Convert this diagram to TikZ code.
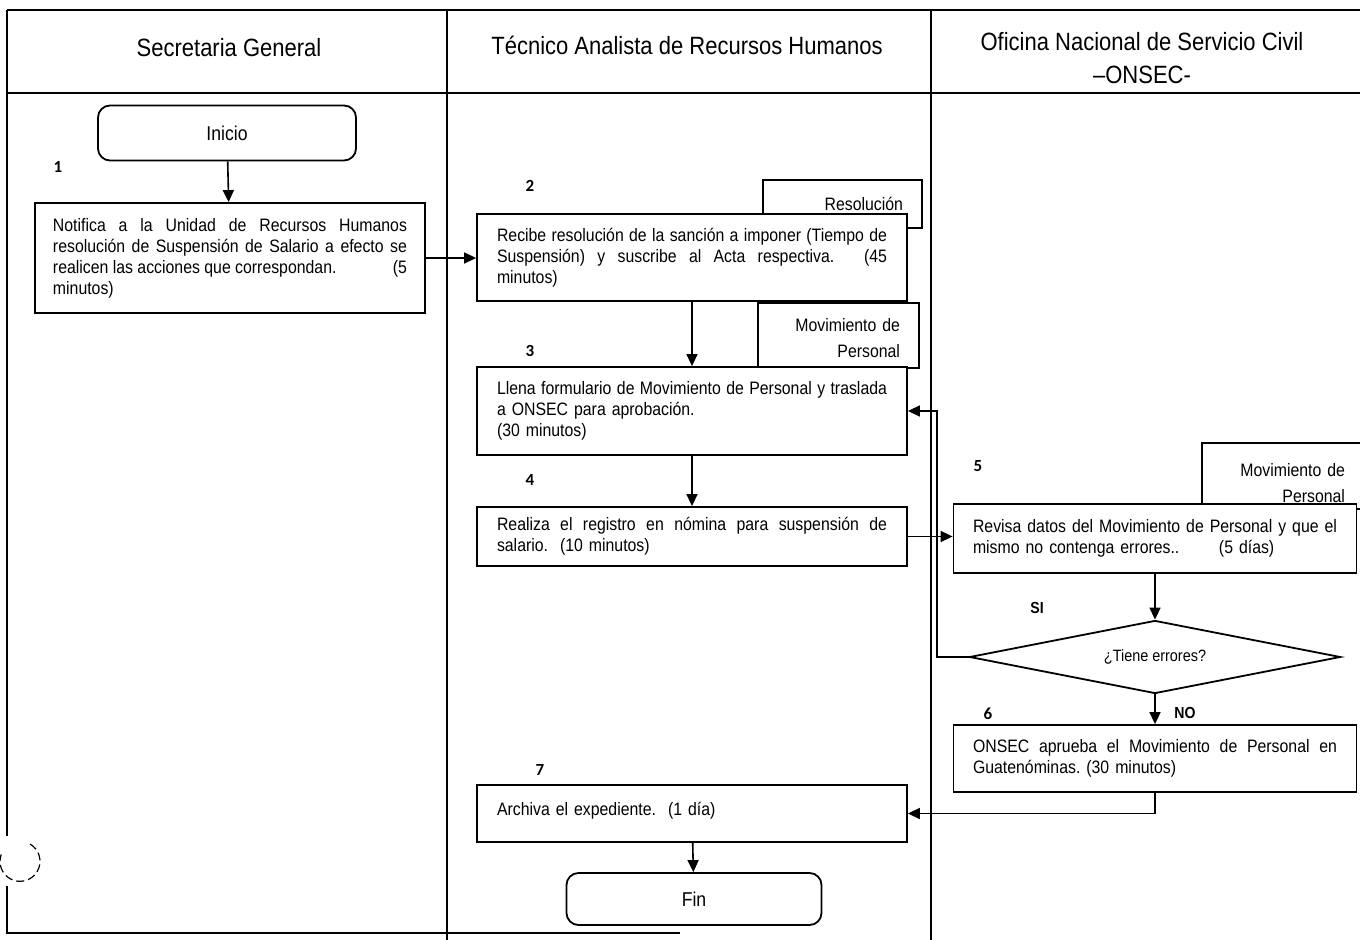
\documentclass[tikz,border=0pt]{standalone}
\usepackage{fontspec}
\setmainfont{Liberation Sans}[FakeStretch=0.88]
\newfontfamily\numfont{Carlito}
\usetikzlibrary{arrows.meta,shapes.geometric}
\newcommand\jl[1]{{\spaceskip=0pt\xspaceskip=0pt\makebox[\linewidth][s]{#1}}}
\begin{document}
\begin{tikzpicture}[x=0.5pt,y=-0.5pt,
 lane/.style={line width=0.9pt},
 box/.style={draw, line width=0.9pt, fill=white, rectangle, align=left, font=\fontsize{9}{10.5}\selectfont, inner ysep=2pt},
 rhbox/.style={box, minimum width=215pt, text width=195pt, inner xsep=10pt},
 onbox/.style={box, minimum width=201.5pt, text width=182pt, inner xsep=9.75pt},
 doc/.style={draw, line width=0.9pt, rectangle, align=right, font=\fontsize{9}{13}\selectfont},
 term/.style={draw, line width=0.9pt, rounded corners=6pt, fill=white, font=\fontsize{10}{12}\selectfont},
 num/.style={font=\numfont\bfseries\fontsize{8.5}{10}\selectfont},
 hdr/.style={font=\fontsize{12.5}{16.5}\selectfont, align=center},
 arr/.style={line width=0.8pt, -{Triangle[length=6pt,width=5.5pt]}},
 lbl/.style={font=\bfseries\fontsize{8}{10}\selectfont}
]
\useasboundingbox (0,0) rectangle (1360,940);
% lanes
\draw[lane] (7,10) -- (1360,10);
\draw[lane] (7,93) -- (1360,93);
\draw[lane] (447,10) -- (447,940);
\draw[lane] (931,10) -- (931,940);
\draw[lane] (7,10) -- (7,836);
\draw[lane] (7,886) -- (7,933) -- (680,933);
\draw[line width=0.6pt, dash pattern=on 4pt off 2pt] (30,844) arc[start angle=60, end angle=-200, radius=10pt];
% headers
\node[hdr] (h1) at (229,48) {Secretaria General};
\node[hdr] (h2) at (687,45) {Técnico Analista de Recursos Humanos};
\node[hdr] (h3) at (1142,58.5) {Oficina Nacional de Servicio Civil\\–ONSEC-};
% documents
\node[doc, minimum width=79.5pt, minimum height=24pt, text width=60.5pt, inner xsep=9.5pt] (res) at (842.5,204) {Resolución};
\node[doc, minimum width=80.5pt, minimum height=32.5pt, text width=61.5pt, inner xsep=9.5pt, text height=9pt] (mov1) at (838.5,335.5) {Movimiento de\\Personal};
\node[doc, minimum width=82pt, minimum height=29pt, text width=61pt, inner xsep=10.5pt, text height=13.5pt] (mov2) at (1284,476) {Movimiento de\\Personal};
% steps
\node[term, minimum width=129pt, minimum height=27.5pt] (inicio) at (227,133) {Inicio};
\node[box, minimum width=195pt, text width=177pt, inner xsep=9pt, minimum height=55pt] (n1) at (230,258) {%
\jl{Notifica a la Unidad de Recursos Humanos}\\
\jl{resolución de Suspensión de Salario a efecto se}\\
\jl{realicen las acciones que correspondan.\hfill(5}\\
minutos)};
\node[rhbox, minimum height=43.5pt] (n2) at (692,257.5) {%
\jl{Recibe resolución de la sanción a imponer (Tiempo de}\\
\jl{Suspensión) y suscribe al Acta respectiva. (45}\\
minutos)};
\node[rhbox, minimum height=44pt] (n3) at (692,411) {%
\jl{Llena formulario de Movimiento de Personal y traslada}\\
a ONSEC para aprobación.\\
(30 minutos)};
\node[rhbox, minimum height=29.5pt] (n4) at (692,536.5) {%
\jl{Realiza el registro en nómina para suspensión de}\\
salario.\ \ (10 minutos)};
\node[onbox, minimum height=34.5pt] (n5) at (1155,538.5) {%
\jl{Revisa datos del Movimiento de Personal y que el}\\
mismo no contenga errores..\hspace{2.2em}(5 días)};
\node[draw, line width=0.9pt, diamond, aspect=5.08, fill=white, inner sep=0pt, minimum width=185.5pt, minimum height=36.5pt, font=\fontsize{8.2}{10}\selectfont] (dia) at (1155,657) {¿Tiene errores?};
\node[onbox, minimum height=33.5pt] (n6) at (1155,758.5) {%
\jl{ONSEC aprueba el Movimiento de Personal en}\\
Guatenóminas.\ (30 minutos)};
\node[rhbox, minimum height=28.5pt, text depth=5pt] (n7) at (692,813.5) {Archiva el expediente.\ \ (1 día)};
\node[term, minimum width=127.5pt, minimum height=26pt] (fin) at (694,899) {Fin};
% numbers
\node[num] (l1) at (58,167) {1};
\node[num] (l2) at (530,186) {2};
\node[num] (l3) at (530,351) {3};
\node[num] (l4) at (530,480) {4};
\node[num] (l5) at (978,466) {5};
\node[num] (l6) at (988,714) {6};
\node[num] (l7) at (540,770) {7};
\node[lbl] (si) at (1037,608) {SI};
\node[lbl] (no) at (1185,713) {NO};
% connectors
\coordinate (lp) at (937,657);
\draw[arr] (inicio) -- (n1);
\draw[arr] (n1.east) -- (n1.east -| n2.west);
\draw[arr] (n2) -- (n3);
\draw[arr] (n3) -- (n4);
\draw[arr] (n4.east) -- (n4.east -| n5.west);
\draw[arr] (n5) -- (dia);
\draw[arr] (dia.west) -- (lp) |- (n3.east);
\draw[arr] (dia) -- (n6);
\draw[arr] (n6.south) |- (n7.east);
\draw[arr] (n7) -- (fin);
\end{tikzpicture}
\end{document}
